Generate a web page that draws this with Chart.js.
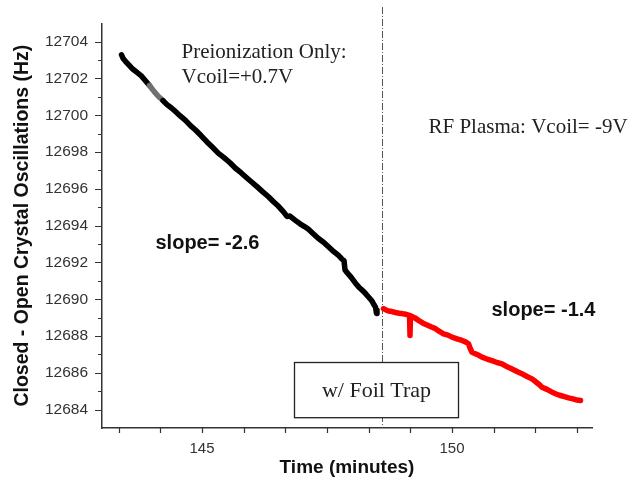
<!DOCTYPE html>
<html>
<head>
<title>Crystal oscillations</title>
<script src="https://cdn.jsdelivr.net/npm/chart.js@4.4.1/dist/chart.umd.min.js"></script>
<style>
  html, body { margin: 0; padding: 0; background: #fff; }
  #wrap { width: 634px; height: 482px; }
</style>
</head>
<body>
<div id="wrap"><canvas id="qcm"></canvas></div>
<script>
// preionization only (black)
const blackTime = [143.39, 143.42, 143.47, 143.55, 143.62, 143.70, 143.78, 143.86, 143.95, 144.04,
  144.13, 144.22, 144.30, 144.39, 144.47, 144.57, 144.67, 144.77, 144.87, 144.98,
  145.10, 145.21, 145.33, 145.44, 145.56, 145.67, 145.78, 145.87, 145.98, 146.10,
  146.21, 146.33, 146.43, 146.53, 146.63, 146.70, 146.76, 146.86, 146.96, 147.05,
  147.13, 147.23, 147.33, 147.43, 147.53, 147.63, 147.73, 147.80, 147.84, 147.86,
  147.90, 147.98, 148.07, 148.15, 148.24, 148.33, 148.40, 148.44, 148.47, 148.49, 148.50];
const blackHz = [12703.29, 12703.10, 12702.93, 12702.70, 12702.50, 12702.33, 12702.16, 12701.90, 12701.62, 12701.30,
  12701.02, 12700.80, 12700.58, 12700.40, 12700.20, 12699.95, 12699.72, 12699.44, 12699.20, 12698.90,
  12698.55, 12698.26, 12697.93, 12697.70, 12697.42, 12697.12, 12696.88, 12696.66, 12696.40, 12696.12,
  12695.85, 12695.57, 12695.30, 12695.05, 12694.75, 12694.50, 12694.52, 12694.30, 12694.10, 12693.95,
  12693.80, 12693.55, 12693.30, 12693.10, 12692.85, 12692.60, 12692.38, 12692.18, 12692.10, 12691.60,
  12691.45, 12691.20, 12690.87, 12690.62, 12690.40, 12690.12, 12689.90, 12689.70, 12689.57, 12689.23, 12689.40];

// RF plasma (red)
const redTime = [148.63, 148.68, 148.73, 148.80, 148.87, 148.94, 149.00, 149.08, 149.15, 149.16,
  149.17, 149.25, 149.33, 149.42, 149.50, 149.58, 149.67, 149.75, 149.83, 149.92,
  150.00, 150.10, 150.20, 150.27, 150.33, 150.36, 150.40, 150.50, 150.60, 150.70,
  150.80, 150.90, 151.00, 151.08, 151.17, 151.25, 151.33, 151.42, 151.50, 151.60,
  151.68, 151.75, 151.80, 151.90, 152.00, 152.07, 152.15, 152.25, 152.33, 152.42, 152.50, 152.57];
const redHz = [12689.49, 12689.42, 12689.36, 12689.33, 12689.28, 12689.24, 12689.22, 12689.18, 12689.12, 12688.03,
  12689.10, 12689.00, 12688.85, 12688.70, 12688.60, 12688.50, 12688.40, 12688.25, 12688.12, 12688.05,
  12687.94, 12687.85, 12687.76, 12687.68, 12687.58, 12687.35, 12687.12, 12687.00, 12686.85, 12686.75,
  12686.66, 12686.56, 12686.49, 12686.36, 12686.25, 12686.14, 12686.03, 12685.92, 12685.80, 12685.67,
  12685.50, 12685.35, 12685.22, 12685.10, 12684.95, 12684.86, 12684.78, 12684.70, 12684.64, 12684.58, 12684.52, 12684.49];

// axis ticks
const xMajorTicks = [145, 150];
const xMinorTicks = [143.333, 144.167, 145.833, 146.667, 147.5, 148.333, 149.167, 150.833, 151.667, 152.5];
const yMajorTicks = [12684, 12686, 12688, 12690, 12692, 12694, 12696, 12698, 12700, 12702, 12704];
const yMinorTicks = [12685, 12687, 12689, 12691, 12693, 12695, 12697, 12699, 12701, 12703];

const switchTime = 148.61;   // plasma switched on

const sans = "'Liberation Sans', Arial, sans-serif";
const serif = "'Liberation Serif', 'Times New Roman', serif";

const toPoints = (xs, ys) => xs.map((x, i) => ({x: x, y: ys[i]}));

const extras = {
  id: 'extras',
  beforeDatasetsDraw(chart) {
    const {ctx, chartArea, scales} = chart;
    const x = scales.x.getPixelForValue(switchTime);
    ctx.save();
    ctx.strokeStyle = '#555';
    ctx.lineWidth = 1;
    ctx.setLineDash([7, 2, 1, 2]);
    ctx.beginPath();
    ctx.moveTo(x, 7);
    ctx.lineTo(x, chartArea.bottom);
    ctx.stroke();
    ctx.restore();
  },
  afterDatasetsDraw(chart) {
    const {ctx, chartArea, scales} = chart;
    const sx = scales.x, sy = scales.y;
    ctx.save();
    // tick marks
    ctx.strokeStyle = '#333';
    ctx.lineWidth = 1.2;
    ctx.beginPath();
    yMajorTicks.forEach(v => {
      const py = Math.round(sy.getPixelForValue(v)) + 0.5;
      ctx.moveTo(chartArea.left - 7, py); ctx.lineTo(chartArea.left, py);
    });
    yMinorTicks.forEach(v => {
      const py = Math.round(sy.getPixelForValue(v)) + 0.5;
      ctx.moveTo(chartArea.left - 4, py); ctx.lineTo(chartArea.left, py);
    });
    xMajorTicks.concat(xMinorTicks).forEach(v => {
      const px = Math.round(sx.getPixelForValue(v)) + 0.5;
      ctx.moveTo(px, chartArea.bottom); ctx.lineTo(px, chartArea.bottom + 5);
    });
    ctx.stroke();

    // foil trap box
    const bx0 = sx.getPixelForValue(146.85), bx1 = sx.getPixelForValue(150.13);
    const by0 = sy.getPixelForValue(12686.56), by1 = sy.getPixelForValue(12683.56);
    ctx.fillStyle = '#fff';
    ctx.fillRect(bx0, by0, bx1 - bx0, by1 - by0);
    ctx.strokeStyle = '#222';
    ctx.lineWidth = 1.3;
    ctx.strokeRect(bx0, by0, bx1 - bx0, by1 - by0);

    ctx.fillStyle = '#222';
    ctx.textBaseline = 'middle';
    ctx.font = '22px ' + serif;
    ctx.textAlign = 'center';
    ctx.fillText('w/ Foil Trap', (bx0 + bx1) / 2, (by0 + by1) / 2 + 1);

    ctx.textAlign = 'left';
    ctx.font = '21px ' + serif;
    ctx.fillText('Preionization Only:', sx.getPixelForValue(144.59), sy.getPixelForValue(12703.4));
    ctx.fillText('Vcoil=+0.7V', sx.getPixelForValue(144.59), sy.getPixelForValue(12702.04));
    ctx.fillText('RF Plasma: Vcoil= -9V', sx.getPixelForValue(149.53), sy.getPixelForValue(12699.31));

    ctx.font = 'bold 20px ' + sans;
    ctx.fillStyle = '#111';
    ctx.fillText('slope= -2.6', sx.getPixelForValue(144.07), sy.getPixelForValue(12693.05));
    ctx.fillText('slope= -1.4', sx.getPixelForValue(150.79), sy.getPixelForValue(12689.40));
    ctx.restore();
  }
};

new Chart(document.getElementById('qcm'), {
  type: 'line',
  data: {
    datasets: [
      {
        label: 'Preionization',
        data: toPoints(blackTime, blackHz),
        borderColor: '#000',
        borderWidth: 5.5,
        borderCapStyle: 'round',
        borderJoinStyle: 'round',
        pointRadius: 0,
        tension: 0,
        segment: {
          borderColor: c => (c.p0.parsed.x >= 143.95 && c.p1.parsed.x <= 144.22) ? '#707070' : undefined
        }
      },
      {
        label: 'RF Plasma',
        data: toPoints(redTime, redHz),
        borderColor: '#ff0000',
        borderWidth: 5.5,
        borderCapStyle: 'round',
        borderJoinStyle: 'round',
        pointRadius: 0,
        tension: 0
      }
    ]
  },
  options: {
    responsive: true,
    maintainAspectRatio: false,
    animation: false,
    layout: { padding: { left: 0, top: 23, right: 42, bottom: 0 } },
    plugins: { legend: { display: false }, tooltip: { enabled: false } },
    scales: {
      x: {
        type: 'linear',
        min: 143,
        max: 152.8,
        afterFit: s => { s.height = 54; },
        afterBuildTicks: s => { s.ticks = xMajorTicks.map(v => ({value: v})); },
        grid: { display: false, drawTicks: false, tickLength: 0 },
        border: { display: true, color: '#333', width: 1.5 },
        ticks: { color: '#333', font: { family: sans, size: 15 }, padding: 12, maxRotation: 0 },
        title: {
          display: true,
          text: 'Time (minutes)',
          color: '#111',
          font: { family: sans, size: 19, weight: 'bold' },
          padding: { top: 0, bottom: 3 }
        }
      },
      y: {
        type: 'linear',
        min: 12683,
        max: 12705,
        afterFit: s => { s.width = 102; },
        afterBuildTicks: s => { s.ticks = yMajorTicks.map(v => ({value: v})); },
        grid: { display: false, drawTicks: false, tickLength: 0 },
        border: { display: true, color: '#333', width: 1.5 },
        ticks: { color: '#333', font: { family: sans, size: 15.5 }, padding: 14, callback: v => String(v) },
        title: {
          display: true,
          text: 'Closed - Open Crystal Oscillations (Hz)',
          color: '#111',
          font: { family: sans, size: 19.5, weight: 'bold' },
          padding: { top: 11, bottom: 0 }
        }
      }
    }
  },
  plugins: [extras]
});
</script>
</body>
</html>
